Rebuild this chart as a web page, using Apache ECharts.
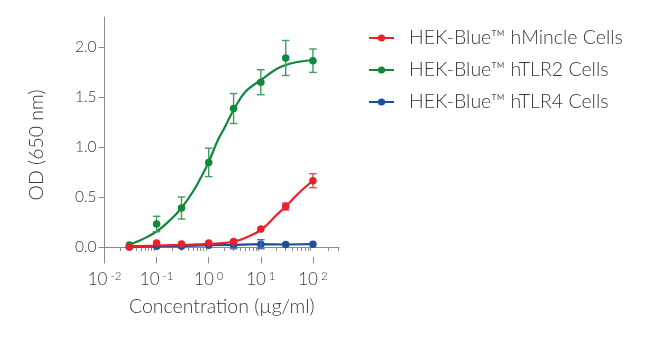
<!DOCTYPE html>
<html><head><meta charset="utf-8">
<script src="https://cdn.jsdelivr.net/npm/echarts@6/dist/echarts.min.js"></script>
<style>html,body{margin:0;padding:0;background:#fff}#c{width:650px;height:340px}</style>
</head><body><div id="c"></div>
<script>
// ---- data ----
const seriesNames = ['HEK-Blue™ hMincle Cells', 'HEK-Blue™ hTLR2 Cells', 'HEK-Blue™ hTLR4 Cells'];
const concentrations = [0.03, 0.1, 0.3, 1, 3, 10, 30, 100];
const mincleOD = [0.00, 0.04, 0.03, 0.04, 0.055, 0.18, 0.405, 0.663];
const mincleSD = [0, 0, 0, 0, 0, 0, 0.035, 0.07];
const tlr2OD = [0.02, 0.23, 0.39, 0.846, 1.385, 1.648, 1.89, 1.863];
const tlr2SD = [0, 0.077, 0.11, 0.142, 0.15, 0.125, 0.175, 0.117];
const tlr4OD = [0.0, 0.007, 0.008, 0.018, 0.022, 0.028, 0.025, 0.028];
const tlr4SD = [0, 0, 0, 0, 0.04, 0.045, 0, 0];
// fitted curves
const fitConcentrations = [0.03, 0.05, 0.1, 0.2, 0.3, 0.5, 0.7, 1, 1.5, 2, 3, 5, 10, 20, 30, 50, 100];
const tlr2Fit = [0.025, 0.07, 0.155, 0.29, 0.39, 0.555, 0.69, 0.85, 1.07, 1.19, 1.37, 1.55, 1.67, 1.78, 1.82, 1.85, 1.87];
const mincleFit = [0.008, 0.01, 0.013, 0.018, 0.02, 0.024, 0.027, 0.03, 0.036, 0.041, 0.052, 0.09, 0.17, 0.32, 0.405, 0.525, 0.665];
// axis ticks
const yTicks = [0, 0.5, 1, 1.5, 2];
const xMajorTicks = [0.01, 0.1, 1, 10, 100];
const xMinorTicks = [0.02,0.03,0.04,0.05,0.06,0.07,0.08,0.09,
  0.2,0.3,0.4,0.5,0.6,0.7,0.8,0.9, 2,3,4,5,6,7,8,9, 20,30,40,50,60,70,80,90, 200,300];

const RED = '#e8212b', GREEN = '#12883c', BLUE = '#1f4e9f';
const RED_E = '#ec4a52', GREEN_E = '#3e9d5f', BLUE_E = '#4a6fb0';
const FONT = 'Lato';
const TXT = '#3a3a3a';
const AX = '#8a8a8a';

const pairs = (xs, ys) => xs.map((x, i) => [x, ys[i]]);
const errData = (ys, sd) => concentrations.map((x, i) => [x, ys[i] - sd[i], ys[i] + sd[i], sd[i]]).filter(d => d[3] > 0);
function errRender(color) {
  return function (params, api) {
    const x = api.value(0);
    const p1 = api.coord([x, api.value(2)]);
    const p2 = api.coord([x, api.value(1)]);
    const w = 3.8;
    const st = { stroke: color, lineWidth: 1.4 };
    return { type: 'group', children: [
      { type: 'line', shape: { x1: p1[0], y1: p1[1], x2: p2[0], y2: p2[1] }, style: st },
      { type: 'line', shape: { x1: p1[0] - w, y1: p1[1], x2: p1[0] + w, y2: p1[1] }, style: st },
      { type: 'line', shape: { x1: p2[0] - w, y1: p2[1], x2: p2[0] + w, y2: p2[1] }, style: st }
    ]};
  };
}
function errSeries(ys, sd, color) {
  return { type: 'custom', renderItem: errRender(color), data: errData(ys, sd),
    encode: { x: 0, y: [1, 2] }, silent: true, z: 3 };
}
function pointSeries(ys, color) {
  return { type: 'scatter', data: pairs(concentrations, ys), symbol: 'circle', symbolSize: 7.5,
    itemStyle: { color: color, opacity: 1 }, silent: true, z: 4 };
}

const chart = echarts.init(document.getElementById('c'), null, { renderer: 'canvas' });
chart.setOption({
  animation: false,
  backgroundColor: '#fff',
  textStyle: { fontFamily: FONT },
  grid: { left: 104.5, top: 17, width: 234.5, height: 240, containLabel: false },
  legend: {
    data: seriesNames, orient: 'vertical', left: 363, top: 23, padding: 5,
    itemWidth: 25, itemHeight: 9, itemGap: 12,
    textStyle: { fontFamily: FONT, fontWeight: 300, fontSize: 19.5, color: TXT, lineHeight: 20, padding: [0, 0, 0, 10] }
  },
  xAxis: [
    { type: 'log', logBase: 10, min: 0.01, max: Math.pow(10, 2.5), position: 'bottom',
      axisLine: { show: true, lineStyle: { color: AX, width: 1 } },
      axisTick: { show: true, length: 4, customValues: xMinorTicks, lineStyle: { color: AX } },
      axisLabel: { show: false }, splitLine: { show: false }, minorTick: { show: false },
      name: 'Concentration (µg/ml)', nameLocation: 'middle', nameGap: 40,
      nameTextStyle: { fontFamily: FONT, fontWeight: 300, fontSize: 19.5, color: TXT } },
    { type: 'log', logBase: 10, min: 0.01, max: Math.pow(10, 2.5), position: 'bottom', gridIndex: 0,
      axisLine: { show: false },
      axisTick: { show: true, length: 6.5, customValues: xMajorTicks, lineStyle: { color: AX } },
      axisLabel: { show: true, customValues: xMajorTicks, margin: 13,
        formatter: v => '{b|10}{s|' + Math.round(Math.log10(v)) + '}',
        rich: {
          b: { fontFamily: FONT, fontWeight: 300, fontSize: 17, color: TXT, lineHeight: 18, verticalAlign: 'bottom' },
          s: { fontFamily: FONT, fontWeight: 300, fontSize: 11.5, color: TXT, lineHeight: 12, verticalAlign: 'top', padding: [0, 0, 0, 3] }
        } },
      splitLine: { show: false } }
  ],
  yAxis: {
    type: 'value', min: -0.1, max: 2.3,
    axisLine: { show: true, lineStyle: { color: AX, width: 1 } },
    axisTick: { show: true, length: 6, customValues: yTicks, lineStyle: { color: AX } },
    axisLabel: { customValues: yTicks, margin: 8, formatter: v => v.toFixed(1),
      fontFamily: FONT, fontWeight: 300, fontSize: 15.5, color: TXT },
    splitLine: { show: false },
    name: 'OD (650 nm)', nameLocation: 'middle', nameGap: 58,
    nameTextStyle: { fontFamily: FONT, fontWeight: 300, fontSize: 19.5, color: TXT, padding: [0, 16, 0, 0] }
  },
  series: [
    { name: seriesNames[1], type: 'line', data: pairs(fitConcentrations, tlr2Fit), smooth: 0.4,
      symbol: 'circle', showSymbol: false, lineStyle: { color: GREEN, width: 2.2 }, itemStyle: { color: GREEN }, z: 2 },
    errSeries(tlr2OD, tlr2SD, GREEN_E),
    pointSeries(tlr2OD, GREEN),
    { name: seriesNames[2], type: 'line', data: pairs(concentrations, tlr4OD),
      symbol: 'circle', symbolSize: 7.5, showSymbol: true, lineStyle: { color: BLUE, width: 2.2 }, itemStyle: { color: BLUE }, z: 2 },
    errSeries(tlr4OD, tlr4SD, BLUE_E),
    { name: seriesNames[0], type: 'line', data: pairs(fitConcentrations, mincleFit), smooth: 0.4,
      symbol: 'circle', showSymbol: false, lineStyle: { color: RED, width: 2.2 }, itemStyle: { color: RED }, z: 2 },
    errSeries(mincleOD, mincleSD, RED_E),
    pointSeries(mincleOD, RED)
  ]
});
</script></body></html>
